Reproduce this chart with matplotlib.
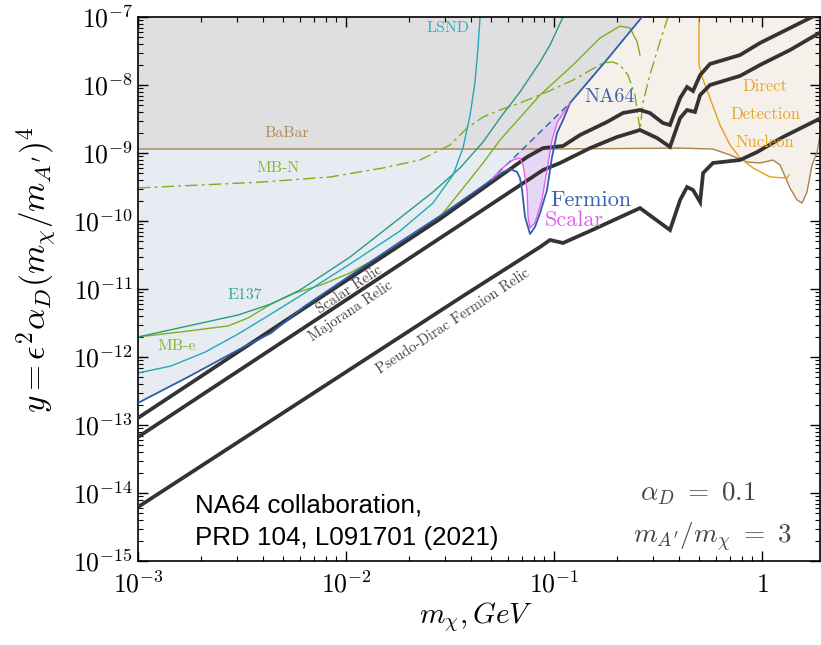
import numpy as np
import matplotlib
matplotlib.use('Agg')
import matplotlib.pyplot as plt
from matplotlib.ticker import FuncFormatter, NullFormatter, LogLocator

plt.rcParams['mathtext.fontset'] = 'cm'
plt.rcParams['axes.unicode_minus'] = False

# --- relic targets (thick black) ---
scalar_relic_m = [1.00e-3, 6.01e-3, 2.83e-2, 7.42e-2, 8.85e-2, 1.105e-1, 1.334e-1, 1.798e-1, 2.146e-1,
                  2.59e-1, 2.89e-1, 3.34e-1, 3.61e-1, 4.04e-1, 4.36e-1, 4.66e-1, 5.04e-1, 5.62e-1,
                  7.84e-1, 9.78e-1, 1.221, 1.740, 2.0]
scalar_relic_y = [1.27e-13, 4.75e-12, 1.07e-10, 8.73e-10, 1.18e-9, 1.27e-9, 1.84e-9, 2.86e-9, 3.88e-9,
                  4.29e-9, 3.88e-9, 2.76e-9, 2.58e-9, 6.44e-9, 9.34e-9, 8.16e-9, 1.40e-8, 2.04e-8,
                  2.76e-8, 4.15e-8, 5.82e-8, 1.00e-7, 1.25e-7]

majorana_relic_m = [1.00e-3, 3.53e-2, 8.85e-2, 1.069e-1, 1.490e-1, 2.009e-1, 2.59e-1, 3.13e-1, 3.61e-1,
                    4.04e-1, 4.36e-1, 4.76e-1, 5.04e-1, 5.62e-1, 7.84e-1, 9.78e-1, 1.363, 1.921]
majorana_relic_y = [6.66e-14, 8.73e-11, 5.62e-10, 7.13e-10, 1.18e-9, 1.72e-9, 2.18e-9, 1.66e-9, 1.23e-9,
                    3.27e-9, 4.29e-9, 4.01e-9, 7.13e-9, 1.00e-8, 1.36e-8, 1.97e-8, 3.27e-8, 6.02e-8]

pd_relic_m = [1.00e-3, 3.53e-2, 8.57e-2, 9.57e-2, 1.105e-1, 1.490e-1, 2.59e-1, 3.61e-1, 4.04e-1,
              4.36e-1, 4.66e-1, 5.04e-1, 5.21e-1, 5.81e-1, 7.84e-1, 9.46e-1, 1.262, 1.921]
pd_relic_y = [6.22e-15, 7.37e-12, 4.15e-11, 5.26e-11, 4.75e-11, 7.13e-11, 1.55e-10, 7.37e-11, 2.04e-10,
              3.16e-10, 2.86e-10, 1.90e-10, 5.08e-10, 7.13e-10, 7.89e-10, 1.03e-9, 1.72e-9, 3.27e-9]

# --- NA64 limit ---
na64_low_m = [1.00e-3, 1.74e-3, 3.03e-3, 4.36e-3, 6.35e-3, 1.818e-2, 2.83e-2, 4.41e-2, 4.92e-2]
na64_low_y = [2.11e-13, 5.08e-13, 1.27e-12, 2.25e-12, 5.62e-12, 4.91e-11, 1.186e-10, 3.06e-10, 3.88e-10]
na64_dash_m = [4.92e-2, 1.194e-1]
na64_dash_y = [3.88e-10, 5.44e-9]
na64_up_m = [1.194e-1, 1.758e-1, 2.65e-1, 2.89e-1]
na64_up_y = [5.44e-9, 2.18e-8, 1.00e-7, 1.40e-7]

fermion_m = [4.92e-2, 5.69e-2, 6.14e-2, 6.64e-2, 6.86e-2, 7.02e-2, 7.26e-2, 7.67e-2, 8.10e-2,
             8.57e-2, 9.25e-2, 9.78e-2, 1.034e-1, 1.105e-1, 1.194e-1]
fermion_y = [3.88e-10, 5.26e-10, 5.82e-10, 5.26e-10, 4.29e-10, 2.86e-10, 1.145e-10, 6.44e-11, 8.16e-11,
             1.31e-10, 2.86e-10, 8.73e-10, 1.97e-9, 3.06e-9, 5.44e-9]

scalar_m = [5.04e-2, 5.50e-2, 6.35e-2, 6.86e-2, 7.10e-2, 7.42e-2, 7.50e-2, 7.67e-2, 8.10e-2,
            8.75e-2, 9.25e-2, 9.78e-2, 1.034e-1, 1.155e-1, 1.194e-1]
scalar_y = [4.15e-10, 5.62e-10, 7.89e-10, 8.44e-10, 6.66e-10, 2.86e-10, 1.145e-10, 7.89e-11, 9.34e-11,
            2.04e-10, 5.62e-10, 1.55e-9, 2.76e-9, 4.75e-9, 5.44e-9]

# --- other experiments ---
lsnd_m = [1.00e-3, 1.44e-3, 2.10e-3, 3.03e-3, 4.36e-3, 6.01e-3, 1.045e-2, 1.818e-2, 2.62e-2,
          3.27e-2, 3.65e-2, 3.95e-2, 4.17e-2, 4.31e-2, 4.41e-2]
lsnd_y = [5.82e-13, 7.37e-13, 1.18e-12, 2.18e-12, 4.29e-12, 7.89e-12, 2.33e-11, 7.13e-11, 1.84e-10,
          4.75e-10, 1.18e-9, 3.62e-9, 1.11e-8, 3.50e-8, 1.00e-7]

e137_m = [1.00e-3, 1.74e-3, 3.03e-3, 4.36e-3, 6.01e-3, 1.045e-2, 1.818e-2, 2.62e-2, 3.53e-2,
          4.56e-2, 5.50e-2, 6.86e-2, 8.57e-2, 9.57e-2, 1.105e-1]
e137_y = [1.97e-12, 2.86e-12, 4.15e-12, 6.02e-12, 9.66e-12, 2.95e-11, 1.11e-10, 2.67e-10, 6.02e-10,
          1.45e-9, 3.27e-9, 7.89e-9, 2.18e-8, 3.88e-8, 1.00e-7]

mbe_m = [1.00e-3, 1.74e-3, 2.71e-3, 3.38e-3, 4.36e-3, 5.69e-3, 7.58e-3, 1.045e-2, 1.818e-2,
         2.83e-2, 4.56e-2, 5.50e-2, 8.57e-2, 1.234e-1, 1.664e-1, 2.077e-1, 2.32e-1, 2.51e-1, 2.59e-1]
mbe_y = [1.97e-12, 2.41e-12, 2.86e-12, 3.75e-12, 6.02e-12, 8.73e-12, 1.145e-11, 1.72e-11, 4.44e-11,
         1.145e-10, 7.13e-10, 1.55e-9, 7.13e-9, 1.97e-8, 4.91e-8, 7.37e-8, 6.89e-8, 4.29e-8, 2.76e-8]

mbn_m = [1.00e-3, 1.99e-3, 3.99e-3, 8.38e-3, 1.506e-2, 2.27e-2, 3.16e-2, 3.82e-2, 4.56e-2, 5.50e-2,
         6.86e-2, 9.25e-2, 1.234e-1, 1.720e-1, 1.921e-1, 2.077e-1, 2.27e-1, 2.45e-1, 2.53e-1, 2.59e-1,
         2.68e-1, 2.89e-1, 3.23e-1, 3.53e-1]
mbn_y = [3.06e-10, 3.38e-10, 3.75e-10, 4.44e-10, 6.02e-10, 7.89e-10, 1.31e-9, 2.33e-9, 3.38e-9, 4.29e-9,
         5.44e-9, 7.89e-9, 1.18e-8, 2.11e-8, 2.18e-8, 1.97e-8, 1.40e-8, 7.13e-9, 3.62e-9, 2.18e-9,
         5.62e-9, 1.40e-8, 4.29e-8, 1.00e-7]

babar_m = [1.00e-3, 1.818e-2, 9.57e-2, 4.04e-1, 5.81e-1, 7.02e-1, 8.47e-1, 9.78e-1, 1.129, 1.221,
           1.363, 1.473, 1.557, 1.645, 1.740, 1.839, 1.921]
babar_y = [1.145e-9, 1.145e-9, 1.145e-9, 1.18e-9, 1.145e-9, 9.34e-10, 7.37e-10, 7.13e-10, 7.89e-10,
           6.66e-10, 3.06e-10, 2.04e-10, 1.84e-10, 2.67e-10, 6.66e-10, 1.03e-9, 2.18e-9]

dd_m = [4.98e-1, 4.98e-1, 5.15e-1, 5.62e-1, 6.28e-1, 7.02e-1, 7.84e-1, 9.05e-1, 1.093, 1.319, 1.348]
dd_y = [1.05e-7, 1.97e-8, 1.31e-8, 6.44e-9, 2.58e-9, 1.31e-9, 8.44e-10, 6.02e-10, 4.44e-10, 4.29e-10, 4.75e-10]

YTOP = 1e-7

c_blue = '#2f5dab'
c_mag = '#e35ff0'
c_lsnd = '#22a9b6'
c_e137 = '#2a9a83'
c_green = '#7daf1e'
c_babar = '#a9834d'
c_orange = '#ea9f12'
c_relic = '#333333'

fig = plt.figure(figsize=(8.21, 6.45), dpi=100)
ax = fig.add_axes([138/821, 1 - 561/645, 682/821, 544/645])
ax.set_xscale('log')
ax.set_yscale('log')
ax.set_xlim(1e-3, 1.9)
ax.set_ylim(1e-15, YTOP)

# shaded regions
na64_m = np.concatenate([na64_low_m, na64_dash_m[1:], na64_up_m[1:]])
na64_y = np.concatenate([na64_low_y, na64_dash_y[1:], na64_up_y[1:]])
blue_fill = ax.fill_between(na64_m, na64_y, YTOP, color='#e7ecf3', lw=0, zorder=0.5)
ax.fill_between(babar_m, babar_y, YTOP, color='#f5f0ea', lw=0, zorder=0.6)
gray_fill = ax.fill_between(babar_m, babar_y, YTOP, color='#dfdfe1', lw=0, zorder=0.7)
gray_fill.set_clip_path(blue_fill.get_paths()[0], ax.transData)
ax.fill(scalar_m, scalar_y, color='#c9a9e8', alpha=0.45, lw=0, zorder=0.8)

# experiments
ax.plot(babar_m, babar_y, color=c_babar, lw=1.0, zorder=2)
ax.plot(dd_m, dd_y, color=c_orange, lw=1.0, zorder=2)
ax.plot(mbn_m, mbn_y, color=c_green, lw=1.0, ls=(0, (9, 3, 2, 3)), zorder=2)
ax.plot(mbe_m, mbe_y, color=c_green, lw=1.0, zorder=2)
ax.plot(e137_m, e137_y, color=c_e137, lw=1.0, zorder=2)
ax.plot(lsnd_m, lsnd_y, color=c_lsnd, lw=1.0, zorder=2)

# relic lines
for m, y in [(scalar_relic_m, scalar_relic_y), (majorana_relic_m, majorana_relic_y), (pd_relic_m, pd_relic_y)]:
    ax.plot(m, y, color=c_relic, lw=2.7, solid_joinstyle='miter', zorder=3)

# NA64
ax.plot(na64_low_m, na64_low_y, color=c_blue, lw=1.3, zorder=4)
ax.plot(na64_dash_m, na64_dash_y, color=c_blue, lw=1.0, ls=(0, (5, 3)), zorder=4)
ax.plot(na64_up_m, na64_up_y, color=c_blue, lw=1.3, zorder=4)
ax.plot(fermion_m, fermion_y, color=c_blue, lw=1.3, zorder=4)
ax.plot(scalar_m, scalar_y, color=c_mag, lw=1.0, zorder=4)

# labels on curves
cm = dict(family='cmr10', ha='center', va='center', zorder=5)
ax.text(3.09e-2, 6.89e-8, 'LSND', color='#2ab0c0', fontsize=11.5, **cm)
ax.text(5.20e-3, 1.97e-9, 'BaBar', color='#b08a55', fontsize=11.5, **cm)
ax.text(4.71e-3, 6.02e-10, 'MB-N', color='#85b52a', fontsize=11.5, **cm)
ax.text(3.27e-3, 8.16e-12, 'E137', color='#38a68a', fontsize=11.5, **cm)
ax.text(1.54e-3, 1.45e-12, 'MB-e', color='#85b52a', fontsize=11.5, **cm)
ax.text(1.858e-1, 6.66e-9, 'NA64', color='#3f63a8', fontsize=14.5, **cm)
ax.text(1.506e-1, 2.04e-10, 'Fermion', color='#3a62b0', fontsize=16, **cm)
ax.text(1.248e-1, 1.035e-10, 'Scalar', color='#e062f0', fontsize=16, **cm)
ax.text(1.034, 9.66e-9, 'Direct', color='#e8a52a', fontsize=12, **cm)
ax.text(1.034, 3.75e-9, 'Detection', color='#e8a52a', fontsize=12, **cm)
ax.text(1.034, 1.45e-9, 'Nucleon', color='#e8a52a', fontsize=12, **cm)

rel = dict(family='cmr10', ha='center', va='center_baseline', color='#444444', fontsize=10.5,
           rotation_mode='anchor', zorder=5)
ax.text(1.034e-2, 1.0e-11, 'Scalar Relic', rotation=33.7, **rel)
ax.text(1.045e-2, 4.9e-12, 'Majorana Relic', rotation=33.7, **rel)
ax.text(3.23e-2, 3.50e-12, 'Pseudo-Dirac Fermion Relic', rotation=33.3, **rel)

sans = dict(family='Liberation Sans', fontsize=18.7, color='black', ha='left', va='baseline')
ax.text(0.0836, 0.090, 'NA64 collaboration,', transform=ax.transAxes, **sans)
ax.text(0.0836, 0.0294, 'PRD 104, L091701 (2021)', transform=ax.transAxes, **sans)

ax.text(0.821, 0.112, r'$\alpha_D\ =\ 0.1$', transform=ax.transAxes, fontsize=19.5,
        color='#444444', ha='center', va='baseline')
ax.text(0.8416, 0.033, r"$m_{A'}/m_\chi\ =\ 3$", transform=ax.transAxes, fontsize=19.5,
        color='#444444', ha='center', va='baseline')

# axes styling
def dec_fmt(v, pos):
    e = int(round(np.log10(v)))
    return '$1$' if e == 0 else r'$10^{%d}$' % e

for axis in (ax.xaxis, ax.yaxis):
    axis.set_major_locator(LogLocator(base=10, numticks=20))
    axis.set_minor_locator(LogLocator(base=10, subs=np.arange(2, 10), numticks=20))
    axis.set_major_formatter(FuncFormatter(dec_fmt))
    axis.set_minor_formatter(NullFormatter())

ax.tick_params(which='both', direction='in', top=True, right=True, labelsize=18.5)
ax.tick_params(which='major', length=7, width=1.0)
ax.tick_params(which='minor', length=3.5, width=0.8)
ax.tick_params(axis='x', which='major', pad=8)
for s in ax.spines.values():
    s.set_linewidth(1.2)

ax.set_xlabel(r'$m_\chi, GeV$', fontsize=21)
ax.set_ylabel(r"$y = \epsilon^2\alpha_D(m_\chi/m_{A'})^4$", fontsize=24)
ax.xaxis.set_label_coords(0.496, -0.072)
ax.yaxis.set_label_coords(-0.118, 0.535)

fig.savefig('out.png', dpi=100)
